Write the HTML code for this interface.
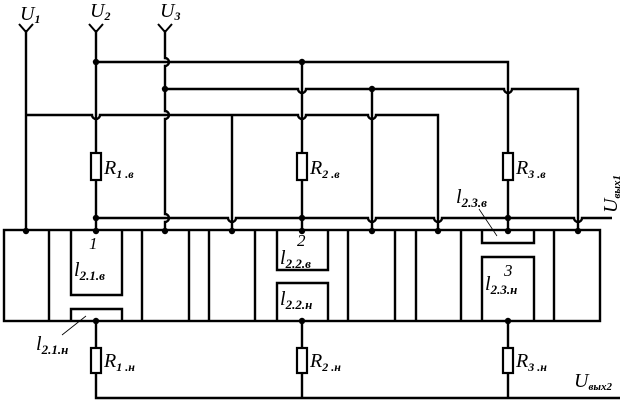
<!DOCTYPE html>
<html><head><meta charset="utf-8"><style>
html,body{margin:0;padding:0;background:#fff}
svg{display:block}
text{font-family:"Liberation Serif",serif;font-style:italic;fill:#000}
tspan.s{font-weight:bold}
</style></head><body>
<svg width="623" height="404" viewBox="0 0 623 404" xmlns="http://www.w3.org/2000/svg">
<g stroke="#000" stroke-width="2.4" fill="none">
<path d="M26 30V231M96 30V231"/>
<path d="M165 30V58a4 4 0 0 1 0 8V111a4 4 0 0 1 0 8V214a4 4 0 0 1 0 8V231"/>
<path d="M19 24L26 32L33 24M89 24L96 32L103 24M158 24L165 32L172 24" stroke-width="2"/>
<path d="M96 62H508V231"/>
<path d="M165 89H298a4 4 0 0 0 8 0H504a4 4 0 0 0 8 0H578V231"/>
<path d="M26 115H92a4 4 0 0 0 8 0H298a4 4 0 0 0 8 0H368a4 4 0 0 0 8 0H438V231"/>
<path d="M232 115V231M302 62V231M372 89V231"/>
<path d="M96 218H228a4 4 0 0 0 8 0H368a4 4 0 0 0 8 0H434a4 4 0 0 0 8 0H574a4 4 0 0 0 8 0H612"/>
<rect x="4" y="230" width="596" height="91"/>
<path d="M49 230V321M142 230V321M189 230V321M209 230V321M255 230V321M348 230V321M395 230V321M416 230V321M461 230V321M554 230V321"/>
<path d="M71 230V295H122V230M71 321V309H122V321"/>
<path d="M277 230V270H328V230M277 321V283H328V321"/>
<path d="M482 230V243H534V230M482 321V257H534V321"/>
<path d="M96 321V398H620M302 321V398M508 321V398"/>
</g>
<g stroke="#000" stroke-width="2.2" fill="#fff">
<rect x="91" y="153" width="10" height="27"/><rect x="297" y="153" width="10" height="27"/><rect x="503" y="153" width="10" height="27"/>
<rect x="91" y="348" width="10" height="25"/><rect x="297" y="348" width="10" height="25"/><rect x="503" y="348" width="10" height="25"/>
</g>
<g fill="#000">
<circle cx="96" cy="62" r="3.2"/><circle cx="302" cy="62" r="3.2"/><circle cx="165" cy="89" r="3.2"/><circle cx="372" cy="89" r="3.2"/>
<circle cx="96" cy="218" r="3.2"/><circle cx="302" cy="218" r="3.2"/><circle cx="508" cy="218" r="3.2"/>
<circle cx="26" cy="231" r="3.2"/><circle cx="96" cy="231" r="3.2"/><circle cx="165" cy="231" r="3.2"/><circle cx="232" cy="231" r="3.2"/><circle cx="302" cy="231" r="3.2"/><circle cx="372" cy="231" r="3.2"/><circle cx="438" cy="231" r="3.2"/><circle cx="508" cy="231" r="3.2"/><circle cx="578" cy="231" r="3.2"/>
<circle cx="96" cy="321" r="3.2"/><circle cx="302" cy="321" r="3.2"/><circle cx="508" cy="321" r="3.2"/>
</g>
<g stroke="#000" stroke-width="0.8"><path d="M62 335L86 316M479 209L497 236"/></g>
<g font-size="20">
<text x="20" y="20">U<tspan class="s" font-size="12" dy="3">1</tspan></text>
<text x="90" y="17">U<tspan class="s" font-size="12" dy="3">2</tspan></text>
<text x="160" y="17">U<tspan class="s" font-size="12" dy="3">3</tspan></text>
<text x="104" y="174">R<tspan class="s" font-size="12" dy="4">1 .в</tspan></text>
<text x="310" y="174">R<tspan class="s" font-size="12" dy="4">2 .в</tspan></text>
<text x="516" y="174">R<tspan class="s" font-size="12" dy="4">3 .в</tspan></text>
<text x="104" y="367">R<tspan class="s" font-size="12" dy="4">1 .н</tspan></text>
<text x="310" y="367">R<tspan class="s" font-size="12" dy="4">2 .н</tspan></text>
<text x="516" y="367">R<tspan class="s" font-size="12" dy="4">3 .н</tspan></text>
<text x="89" y="249" font-size="17">1</text>
<text x="297" y="246" font-size="17">2</text>
<text x="504" y="276" font-size="17">3</text>
<text x="74" y="276">l<tspan class="s" font-size="13" dy="4">2.1.в</tspan></text>
<text x="280" y="264">l<tspan class="s" font-size="13" dy="4">2.2.в</tspan></text>
<text x="280" y="305">l<tspan class="s" font-size="13" dy="4">2.2.н</tspan></text>
<text x="485" y="290">l<tspan class="s" font-size="13" dy="4">2.3.н</tspan></text>
<text x="456" y="203">l<tspan class="s" font-size="13" dy="4">2.3.в</tspan></text>
<text x="36" y="350">l<tspan class="s" font-size="13" dy="4">2.1.н</tspan></text>
<text x="574" y="387">U<tspan class="s" font-size="11" dy="3">вых2</tspan></text>
<text transform="translate(617,213) rotate(-90)">U<tspan class="s" font-size="11" dy="3">вых1</tspan></text>
</g>
</svg>
</body></html>
